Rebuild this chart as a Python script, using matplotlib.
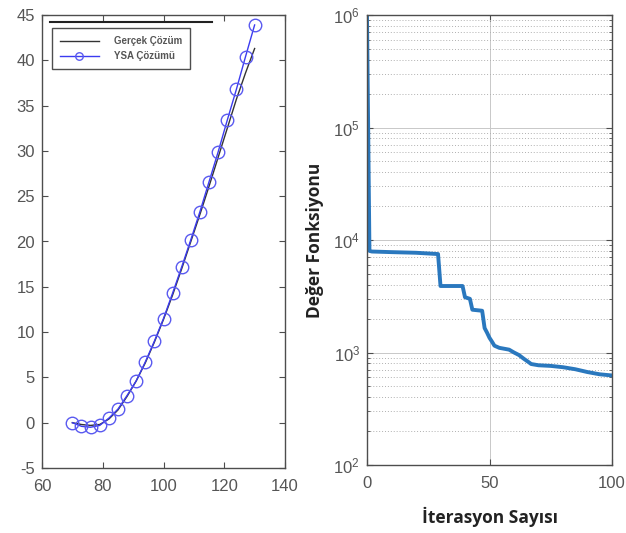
import matplotlib
matplotlib.use("Agg")
import matplotlib.pyplot as plt
from matplotlib.lines import Line2D
from matplotlib.ticker import LogLocator, NullFormatter

plt.rcParams['font.family'] = ['Liberation Sans', 'DejaVu Sans']
plt.rcParams['axes.unicode_minus'] = False

# --- Left panel: true solution vs. ANN (YSA) solution ---
x_vals = [70, 73, 76, 79, 82, 85, 88, 91, 94, 97, 100, 103, 106, 109, 112,
          115, 118, 121, 124, 127, 130]
gercek = [0.0, -0.2, -0.3, -0.2, 0.4, 1.4, 2.9, 4.6, 6.6, 8.9, 11.4, 14.1,
          17.0, 20.0, 23.0, 26.1, 29.3, 32.5, 35.7, 38.6, 41.3]
ysa = [0.0, -0.4, -0.5, -0.3, 0.5, 1.5, 3.0, 4.6, 6.7, 9.0, 11.5, 14.3,
       17.2, 20.2, 23.3, 26.6, 29.9, 33.4, 36.8, 40.4, 43.9]
left_xticks = [60, 80, 100, 120, 140]
left_yticks = [-5, 0, 5, 10, 15, 20, 25, 30, 35, 40, 45]

# --- Right panel: cost function over iterations ---
iters = [0, 1, 2, 10, 20, 29, 30, 35, 39, 40, 42, 43, 47, 48, 49, 50, 51, 52,
         54, 56, 58, 60, 62, 64, 66, 67, 70, 75, 80, 85, 90, 95, 100]
cost = [9.5e5, 8000, 7900, 7800, 7700, 7500, 3900, 3900, 3900, 3100, 3000,
        2400, 2350, 1650, 1500, 1350, 1250, 1150, 1100, 1080, 1060, 1000,
        950, 880, 820, 790, 770, 760, 740, 710, 670, 640, 625]
right_xticks = [0, 50, 100]

axis_gray = '#4d4d4d'
tick_gray = '#555555'

fig = plt.figure(figsize=(6.26, 5.33), dpi=100)

# Left axes
ax1 = fig.add_axes([42 / 626, 1 - 468 / 533, (285 - 42) / 626, (468 - 15) / 533])
ax1.plot(x_vals, gercek, color='#333333', lw=1.0, label='Gerçek Çözüm')
ax1.plot(x_vals, ysa, color='#3b3bf0', lw=1.0, marker='o', ms=9,
         mfc='none', mec='#5a5af0', mew=1.0, label='YSA Çözümü')
ax1.set_xlim(60, 140)
ax1.set_ylim(-5, 45)
ax1.set_xticks(left_xticks)
ax1.set_yticks(left_yticks)
leg = ax1.legend(loc='upper left', bbox_to_anchor=(0.041, 0.971),
                 prop={'weight': 'bold', 'size': 7}, frameon=True,
                 fancybox=False, borderpad=0.8, borderaxespad=0.0,
                 handlelength=4.0, handletextpad=1.6, labelspacing=0.55,
                 markerscale=0.6)
leg.get_frame().set_edgecolor('#222222')
leg.get_frame().set_linewidth(1.0)
for t in leg.get_texts():
    t.set_color('#555555')
# dark bar drawn across the top of the panel
ax1.add_line(Line2D([0.033, 0.70], [0.985, 0.985], transform=ax1.transAxes,
                    color='#222222', lw=1.5))

# Right axes
ax2 = fig.add_axes([367 / 626, 1 - 465 / 533, (612 - 367) / 626, (465 - 15) / 533])
ax2.semilogy(iters, cost, color='#2a78be', lw=2.8)
ax2.set_xlim(0, 100)
ax2.set_ylim(1e2, 1e6)
ax2.set_xticks(right_xticks)
ax2.yaxis.set_major_locator(LogLocator(base=10, numticks=10))
ax2.yaxis.set_minor_locator(LogLocator(base=10, subs=range(2, 10), numticks=20))
ax2.yaxis.set_minor_formatter(NullFormatter())
ax2.grid(True, which='major', axis='both', color='#c8c8c8', lw=0.7, ls='-')
ax2.grid(True, which='minor', axis='y', color='#b0b0b0', lw=0.7, ls=(0, (1, 2)))
ax2.set_xlabel('İterasyon Sayısı', fontsize=12.5, fontweight='bold',
               family=['Open Sans', 'DejaVu Sans'], labelpad=11, color='#222222')
ax2.set_ylabel('Değer Fonksiyonu', fontsize=12.5, fontweight='bold',
               family=['Open Sans', 'DejaVu Sans'], labelpad=7, color='#222222')

for ax in (ax1, ax2):
    for s in ax.spines.values():
        s.set_color(axis_gray)
        s.set_linewidth(1.0)
    ax.tick_params(which='both', direction='in', top=True, right=True,
                   colors=axis_gray, labelcolor=tick_gray, labelsize=12)
    ax.tick_params(which='major', length=4)
    ax.tick_params(which='minor', length=2)
    ax.tick_params(axis='x', pad=8)
    ax.tick_params(axis='y', pad=5)

fig.savefig('out.png', dpi=100)
